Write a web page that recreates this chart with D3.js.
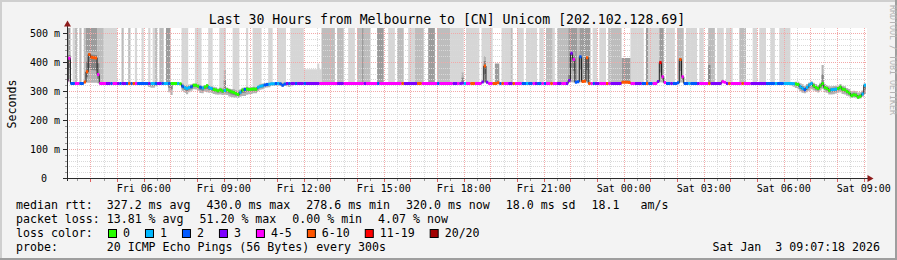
<!DOCTYPE html>
<html>
<head>
<meta charset="utf-8">
<script src="https://cdn.jsdelivr.net/npm/d3@7"></script>
<style>
html,body{margin:0;padding:0;background:#f3f3f3;}
svg{display:block;}
text{font-family:"DejaVu Sans Mono",monospace;white-space:pre;fill:#000;}
</style>
</head>
<body>
<svg id="chart" width="897" height="260"></svg>
<script>
// ================= DATA =================
const title = "Last 30 Hours from Melbourne to [CN] Unicom [202.102.128.69]";
const viewStart = "2026-01-02T03:07:18Z";   // local (Melbourne) wall-clock times
const viewEnd   = "2026-01-03T09:07:18Z";
const firstStep = "2026-01-02T03:05:00Z";   // start of first 5-minute step
const stepMinutes = 5;

// median RTT per 5-minute step (ms)
const median = [
336,413,326,326,326,326,326,326,331,366,426,416,415,414,357,326,326,326,326,326,
326,326,326,326,326,326,326,326,326,326,326,326,326,326,326,326,326,326,326,326,
326,326,326,326,326,326,326,326,326,326,326,325,316,311,309,312,315,320,320,316,
313,310,314,318,312,309,305,303,301,304,300,302,304,301,297,295,291,288,296,303,
305,307,305,306,307,306,313,316,318,321,322,323,325,325,326,326,325,320,324,326,
326,326,326,326,326,326,326,326,326,326,326,326,326,326,326,326,326,326,326,326,
326,326,326,326,326,326,326,326,326,326,326,326,326,326,326,326,326,326,326,326,
326,326,326,326,326,326,326,326,326,326,326,326,326,326,326,326,326,326,326,326,
326,326,326,326,326,326,326,326,326,326,326,326,326,326,326,326,326,326,327,326,
326,326,326,326,326,326,326,331,386,330,326,326,326,326,328,326,326,326,326,326,
326,326,326,326,326,326,326,326,326,326,326,326,326,326,326,326,326,326,326,326,
326,326,326,326,326,326,336,430,409,330,332,418,333,334,415,326,326,326,326,326,
326,326,326,326,326,326,326,326,326,326,330,330,330,329,326,326,326,326,326,326,
326,326,326,326,326,326,333,398,349,329,326,326,326,326,326,328,409,349,326,326,
326,326,326,326,326,326,326,326,326,326,326,326,326,326,326,332,330,326,326,326,
326,326,326,326,326,326,326,326,326,326,326,326,326,326,326,326,326,326,326,326,
326,326,326,326,326,326,326,325,324,322,315,309,304,312,321,326,318,312,309,318,
326,312,309,302,304,305,306,309,314,306,304,298,293,284,287,285,278.6,282,290,320
];

// pings lost (of 20) per step
const lost = [
5,4,2,2,4,4,2,2,7,7,8,7,7,6,4,5,4,4,3,3,
2,4,4,3,2,3,3,2,7,2,7,4,2,2,2,2,2,3,1,1,
2,3,3,2,1,1,2,0,0,0,1,0,2,1,1,1,2,0,0,0,
2,1,0,0,1,1,0,0,0,0,0,1,0,0,0,0,0,0,1,0,
2,0,0,0,0,0,1,1,1,2,2,1,1,1,2,1,2,2,2,3,
2,3,3,2,3,3,3,2,3,3,3,3,3,3,4,5,4,4,5,4,
4,4,3,3,3,4,5,4,4,5,4,4,5,4,3,4,4,5,4,4,
2,4,5,4,4,4,5,4,4,5,4,7,3,3,3,3,3,3,6,8,
4,5,4,4,5,4,4,2,4,4,5,4,4,4,3,3,4,3,3,1,
4,4,7,7,4,4,4,3,7,3,4,4,7,7,7,2,6,4,5,3,
3,7,4,4,4,2,2,1,2,2,4,3,2,2,5,2,4,4,6,4,
4,3,3,4,4,3,3,3,4,2,2,2,7,6,7,6,4,2,3,3,
4,4,5,6,4,3,3,3,3,3,7,7,8,7,4,4,3,3,3,2,
2,7,2,2,4,4,3,12,5,4,2,2,3,2,2,2,7,4,2,2,
1,2,2,2,3,4,4,5,4,7,3,3,3,3,3,4,4,3,7,4,
4,4,4,5,6,4,4,4,3,3,3,3,3,3,3,2,2,2,2,1,
2,2,2,1,1,1,1,1,0,0,1,1,2,1,1,1,0,0,0,0,
0,0,0,0,1,1,1,0,0,0,0,0,0,0,0,0,0,0,1,1
];

// smoke: spread of the pings below / above the median (ms)
const smokeBelow = [
10,80,0,0,0,0,0,0,0,38,98,88,87,86,30,0,0,0,0,0,
0,0,0,0,0,0,0,0,0,0,0,0,0,0,0,0,0,12,15,15,
10,0,0,0,0,0,30,40,5,5,5,5,15,18,20,16,14,14,15,15,
20,18,16,22,18,16,15,15,14,16,14,15,18,20,18,18,14,12,16,20,
22,20,16,16,15,14,14,12,12,10,10,10,8,8,8,8,8,6,6,10,
12,10,0,0,0,0,0,0,0,0,0,0,0,0,0,0,0,0,0,0,
0,0,0,0,0,0,0,0,0,0,0,0,0,0,0,0,0,0,0,0,
0,0,0,0,0,0,0,0,0,0,0,0,0,0,0,0,0,0,0,0,
0,0,0,0,0,0,0,0,0,0,0,0,0,0,0,0,0,0,0,0,
0,0,0,0,0,0,0,0,58,0,0,0,0,0,0,0,0,0,0,0,
0,0,0,0,0,0,0,0,0,0,0,0,0,0,0,0,0,0,0,0,
0,0,0,0,0,0,8,100,80,0,0,88,0,0,86,0,0,0,0,0,
0,0,0,0,0,0,0,0,0,0,0,0,0,0,0,0,0,0,0,0,
0,0,0,0,0,0,0,68,20,0,0,0,0,0,0,0,80,20,0,0,
0,0,0,0,0,0,0,0,0,0,0,0,0,0,0,0,0,0,0,0,
0,0,0,0,0,0,0,0,0,0,0,0,0,0,0,0,0,0,0,0,
0,0,0,0,0,4,8,10,14,16,16,15,12,16,20,20,16,15,14,16,
18,16,15,14,16,16,15,15,18,16,16,14,12,8,10,10,6,8,10,30
];
const smokeAbove = [
8,22,0,0,0,0,0,0,0,69,9,19,20,21,78,0,0,0,0,0,
0,0,0,0,0,0,0,0,0,0,0,0,0,0,0,0,0,0,0,0,
0,0,0,0,0,0,0,0,0,0,0,0,10,10,12,10,8,6,6,8,
8,8,6,6,8,8,10,10,8,8,10,70,8,8,10,12,12,15,10,8,
8,8,8,8,8,8,8,8,8,6,6,5,4,4,3,3,3,8,4,0,
0,0,0,0,0,0,0,0,0,0,0,0,0,0,0,0,0,0,0,0,
0,0,0,0,0,0,0,0,0,0,0,0,0,0,0,0,0,0,0,0,
0,0,0,0,0,0,0,0,0,0,0,0,0,0,0,0,0,0,0,0,
0,0,0,0,0,0,0,0,0,0,0,0,0,0,0,0,0,0,37,0,
0,0,0,0,0,0,0,0,34,0,0,0,0,0,0,0,0,0,0,0,
0,0,0,0,0,0,0,0,0,0,0,0,0,0,0,0,0,0,0,0,
0,0,0,0,0,0,40,10,25,0,0,8,0,0,8,0,0,0,0,0,
0,0,0,0,0,0,0,0,0,0,0,0,0,0,0,0,0,0,0,0,
0,0,0,0,0,0,0,12,0,0,0,0,0,0,0,0,6,0,0,0,
0,0,0,0,0,0,0,0,0,127,0,0,0,0,0,8,0,0,0,0,
0,0,0,0,0,0,0,0,0,0,0,0,0,0,0,0,0,0,0,0,
0,0,0,0,0,0,0,6,8,10,12,14,14,12,8,8,10,12,12,10,
64,12,12,14,12,12,12,10,10,12,12,12,14,15,14,14,16,14,12,6
];

// tall smoke columns (outlier pings): top of column in ms (999 = off the chart), 0 = none
const colTop = [
999,999,0,999,999,0,999,0,999,999,999,999,999,999,999,999,999,999,999,999,
999,999,999,0,0,999,0,0,999,0,0,999,0,0,999,0,0,999,0,999,
999,0,999,999,0,999,999,0,0,0,0,0,999,999,999,0,0,0,999,999,
999,0,0,0,999,999,0,0,0,999,999,999,0,0,0,999,999,999,0,0,
0,999,0,0,999,999,999,999,0,0,0,999,999,0,0,999,999,999,999,0,
0,999,999,999,999,999,999,375,375,375,375,375,375,395,375,999,999,999,999,999,
999,0,999,999,999,0,0,999,999,999,0,999,999,999,999,999,999,0,0,0,
999,999,999,0,0,999,999,999,0,999,999,999,0,0,999,999,999,999,999,999,
999,0,0,999,999,999,0,999,999,999,999,999,999,999,999,999,999,999,999,0,
999,999,999,999,999,999,0,999,999,999,999,999,0,395,395,0,999,999,999,999,
999,0,0,999,999,999,0,999,999,999,999,999,0,999,999,0,999,999,999,999,
0,999,999,999,999,999,999,999,999,999,999,999,999,999,999,999,0,999,999,0,
999,999,999,0,999,999,999,999,999,999,414,414,414,414,999,999,999,999,999,999,
0,999,999,999,999,999,999,999,999,0,999,999,999,999,0,999,999,999,0,999,
999,999,999,999,0,999,999,0,0,999,999,999,0,999,999,999,0,999,999,999,
0,0,0,999,999,999,0,0,0,999,999,0,999,999,999,0,0,999,999,0,
0,999,999,999,999,999,0,0,0,0,0,0,0,0,0,0,0,0,0,0,
0,0,0,0,0,0,0,0,0,0,0,0,0,0,0,0,0,0,0,0
];
// shade of each tall column (1 light .. 3 dark)
const colTone = [
3,3,0,1,2,0,2,0,2,3,3,3,3,3,2,2,2,1,1,1,
1,1,1,0,0,2,0,0,2,0,0,1,0,0,1,0,0,1,0,1,
2,0,2,2,0,3,3,0,0,0,0,0,1,1,1,0,0,0,1,1,
1,0,0,0,1,1,0,0,0,1,1,1,0,0,0,1,1,1,0,0,
0,1,0,0,1,1,1,1,0,0,0,1,1,0,0,1,1,1,1,0,
0,1,1,1,1,1,1,1,1,1,1,1,1,1,1,2,2,2,2,2,
2,0,2,2,2,0,0,1,1,1,0,2,2,3,2,2,2,0,0,0,
3,3,3,0,0,1,1,1,0,2,2,2,0,0,1,1,1,2,2,2,
2,0,0,3,3,3,0,2,2,2,2,2,2,1,1,1,1,1,1,0,
1,1,1,1,1,1,0,1,1,1,1,1,0,3,3,0,1,1,1,1,
2,0,0,1,1,1,0,1,1,1,1,1,0,1,1,0,2,2,2,1,
0,2,2,2,2,2,3,3,3,3,2,3,3,3,3,3,0,1,1,0,
1,1,1,0,2,2,2,2,2,2,3,3,3,3,1,1,1,1,1,1,
0,3,1,1,1,1,1,3,3,0,1,1,1,1,0,2,2,2,0,1,
1,1,1,1,0,1,1,0,0,2,2,2,0,1,1,1,0,1,1,1,
0,0,0,2,2,2,0,0,0,1,1,0,1,1,1,0,0,1,1,0,
0,1,1,1,1,1,0,0,0,0,0,0,0,0,0,0,0,0,0,0,
0,0,0,0,0,0,0,0,0,0,0,0,0,0,0,0,0,0,0,0
];

const yTicks = [0,100,200,300,400,500];
const yTickLabels = ["0","100 m","200 m","300 m","400 m","500 m"];
const yLabel = "Seconds";
const lossLabels = ["0","1","2","3","4-5","6-10","11-19","20/20"];
const lossUpper  = [0,1,2,3,5,10,19,20];
const lossColors = ["#26ff00","#00b8ff","#0059ff","#7e00ff","#ff00ff","#ff5500","#ff0000","#a10000"];
const legendRtt  = ["median rtt:  327.2 ms avg","430.0 ms max","278.6 ms min","320.0 ms now","18.0 ms sd","18.1   am/s"];
const legendLoss = ["packet loss: 13.81 % avg","51.20 % max","0.00 % min","4.07 % now"];
const legendColorTitle = "loss color:";
const probeText = "probe:       20 ICMP Echo Pings (56 Bytes) every 300s";
const stampText = "Sat Jan  3 09:07:18 2026";
const watermark = "RRDTOOL / TOBI OETIKER";

// ================= DRAWING =================
const W = 897, H = 260;
const P = {x0:67, x1:867, y0:28, y1:178};
const yMax = 517.2;
const toneColors = [null,"#d6d6d6","#bdbdbd","#9c9c9c"];

const svg = d3.select("#chart");
svg.append("rect").attr("width",W).attr("height",H).attr("fill","#f3f3f3");
svg.append("rect").attr("x",0).attr("y",0).attr("width",W).attr("height",2).attr("fill","#cfcfcf");
svg.append("rect").attr("x",0).attr("y",0).attr("width",2).attr("height",H).attr("fill","#cfcfcf");
svg.append("rect").attr("x",0).attr("y",H-2).attr("width",W).attr("height",2).attr("fill","#9e9e9e");
svg.append("rect").attr("x",W-2).attr("y",0).attr("width",2).attr("height",H).attr("fill","#9e9e9e");

const x = d3.scaleUtc().domain([new Date(viewStart), new Date(viewEnd)]).range([P.x0, P.x1]);
const y = d3.scaleLinear().domain([0, yMax]).range([P.y1, P.y0]);

svg.append("defs").append("clipPath").attr("id","clip")
  .append("rect").attr("x",P.x0).attr("y",P.y0).attr("width",P.x1-P.x0).attr("height",P.y1-P.y0);
svg.append("rect").attr("x",P.x0).attr("y",P.y0).attr("width",P.x1-P.x0).attr("height",P.y1-P.y0).attr("fill","#fff");

const g = svg.append("g").attr("clip-path","url(#clip)");
const t0 = new Date(firstStep);
const bucket = l => lossUpper.findIndex(u => l <= u);
const steps = median.map((m,i)=>({
  a: d3.utcMinute.offset(t0, i*stepMinutes),
  b: d3.utcMinute.offset(t0, (i+1)*stepMinutes),
  m, k: bucket(lost[i]),
  below: smokeBelow[i], above: smokeAbove[i],
  top: Math.min(colTop[i], yMax), tone: colTone[i]
}));
const pts = steps.flatMap(d => [{t:d.a, d},{t:d.b, d}]);

// tall smoke columns
[1,2,3].forEach(k=>{
  const area = d3.area().defined(p=>p.d.tone===k && p.d.top>0)
    .x(p=>x(p.t)).y0(p=>y(p.d.m)).y1(p=>y(p.d.top));
  g.append("path").attr("d",area(pts)).attr("fill",toneColors[k]);
});
// core smoke (outer + inner)
const outer = d3.area().defined(p=>p.d.below+p.d.above>0)
  .x(p=>x(p.t)).y0(p=>y(p.d.m-p.d.below)).y1(p=>y(p.d.m+p.d.above));
g.append("path").attr("d",outer(pts)).attr("fill","#b4b4b4");
const inner = d3.area().defined(p=>p.d.below+p.d.above>0)
  .x(p=>x(p.t)).y0(p=>y(p.d.m-p.d.below/2)).y1(p=>y(p.d.m+p.d.above/2));
g.append("path").attr("d",inner(pts)).attr("fill","#858585");

// grid
const crisp = v => Math.round(v)+0.5;
const minorY = d3.range(20, yMax, 20).filter(v=>v%100!==0);
const majorY = yTicks.filter(v=>v>0);
const hours = d3.utcHour.range(x.domain()[0], x.domain()[1]);
const halfHours = d3.utcMinute.every(30).range(x.domain()[0], x.domain()[1]).filter(t=>t.getUTCMinutes()===30);
const grid = svg.append("g").attr("fill","none").attr("stroke-width",1).attr("stroke-dasharray","1,1");
grid.selectAll("line.mh").data(minorY).join("line")
  .attr("x1",P.x0).attr("x2",P.x1).attr("y1",d=>crisp(y(d))).attr("y2",d=>crisp(y(d))).attr("stroke","#d9d9d9");
grid.selectAll("line.mv").data(halfHours).join("line")
  .attr("y1",P.y0).attr("y2",P.y1).attr("x1",d=>crisp(x(d))).attr("x2",d=>crisp(x(d))).attr("stroke","#d9d9d9");
grid.selectAll("line.Mh").data(majorY).join("line")
  .attr("x1",P.x0).attr("x2",P.x1).attr("y1",d=>crisp(y(d))).attr("y2",d=>crisp(y(d))).attr("stroke","#f2a8a8");
grid.selectAll("line.Mv").data(hours).join("line")
  .attr("y1",P.y0).attr("y2",P.y1).attr("x1",d=>crisp(x(d))).attr("x2",d=>crisp(x(d))).attr("stroke","#f2a8a8");

// median lines: thin dark connecting line + coloured 3px step segments
const g2 = svg.append("g").attr("clip-path","url(#clip)");
const medLine = d3.line().x(p=>x(p.t)).y(p=>y(p.d.m));
g2.append("path").attr("d",medLine(pts)).attr("fill","none").attr("stroke","#202020").attr("stroke-width",1);
const segPts = steps.flatMap(d => [{t:d.a, d},{t:d.b, d},null]);
lossColors.forEach((c,k)=>{
  const ln = d3.line().defined(p=>p!==null && p.d.k===k).x(p=>x(p.t)).y(p=>y(p.d.m));
  g2.append("path").attr("d",ln(segPts)).attr("fill","none").attr("stroke",c).attr("stroke-width",3);
});

// axes
const axisColor = "#2a2a2a", arrowColor = "#8e1b1b";
svg.append("line").attr("x1",67.5).attr("x2",67.5).attr("y1",181).attr("y2",26).attr("stroke",axisColor);
svg.append("line").attr("x1",63).attr("x2",868).attr("y1",178.5).attr("y2",178.5).attr("stroke",axisColor);
svg.append("path").attr("d","M64,26.5L71,26.5L67.5,20.5Z").attr("fill",arrowColor);
svg.append("path").attr("d","M867.5,175L867.5,182L873.5,178.5Z").attr("fill",arrowColor);
svg.selectAll("line.yt").data(majorY).join("line")
  .attr("x1",63).attr("x2",67).attr("y1",d=>crisp(y(d))).attr("y2",d=>crisp(y(d))).attr("stroke",axisColor);
svg.selectAll("line.ytm").data(minorY).join("line")
  .attr("x1",65).attr("x2",67).attr("y1",d=>crisp(y(d))).attr("y2",d=>crisp(y(d))).attr("stroke","#999");
svg.selectAll("line.xt").data(hours).join("line")
  .attr("x1",d=>crisp(x(d))).attr("x2",d=>crisp(x(d))).attr("y1",179).attr("y2",182).attr("stroke","#e06060");
svg.selectAll("line.xtm").data(halfHours).join("line")
  .attr("x1",d=>crisp(x(d))).attr("x2",d=>crisp(x(d))).attr("y1",179).attr("y2",181).attr("stroke","#999");

// tick labels
svg.selectAll("text.yl").data(yTicks).join("text")
  .attr("x",(d,i)=> yTickLabels[i].includes(" ") ? 60 : 47)
  .attr("y",d=>y(d)+3.6).attr("text-anchor","end").attr("font-size","10px")
  .text((d,i)=>yTickLabels[i]);
const xLabelTicks = d3.utcHour.every(3).range(x.domain()[0], x.domain()[1]);
const fmt = d3.utcFormat("%a %H:%M");
svg.selectAll("text.xl").data(xLabelTicks).join("text")
  .attr("x",d=>x(d)).attr("y",191.5).attr("text-anchor","middle").attr("font-size","10px")
  .text(d=>fmt(d));

// titles
svg.append("text").attr("x",447).attr("y",24).attr("text-anchor","middle").attr("font-size","13.2px").text(title);
svg.append("text").attr("transform","translate(15.5,104) rotate(-90)").attr("text-anchor","middle")
  .attr("font-size","11.6px").text(yLabel);
svg.append("text").attr("transform","translate(889.5,5) rotate(90)").attr("font-size","8.3px")
  .style("fill","#b4b4b4").text(watermark);

// legend
const LF = "11.6px", CW = 6.98, GAP = 16;
function row(items, yb){
  let xx = 16;
  items.forEach(s=>{
    svg.append("text").attr("x",xx).attr("y",yb).attr("font-size",LF).text(s);
    xx += s.length*CW + GAP;
  });
}
row(legendRtt, 208.5);
row(legendLoss, 222.5);
svg.append("text").attr("x",16).attr("y",236.5).attr("font-size",LF).text(legendColorTitle);
let bx = 108;
lossLabels.forEach((lab,k)=>{
  svg.append("rect").attr("x",bx+0.5).attr("y",229.5).attr("width",8).attr("height",8)
    .attr("fill",lossColors[k]).attr("stroke","#000").attr("stroke-width",1);
  svg.append("text").attr("x",bx+15).attr("y",236.5).attr("font-size",LF).text(lab);
  bx += 15 + lab.length*CW + 15;
});
svg.append("text").attr("x",16).attr("y",250.5).attr("font-size",LF).text(probeText);
svg.append("text").attr("x",880).attr("y",250.5).attr("text-anchor","end").attr("font-size",LF).text(stampText);
</script>
</body>
</html>
